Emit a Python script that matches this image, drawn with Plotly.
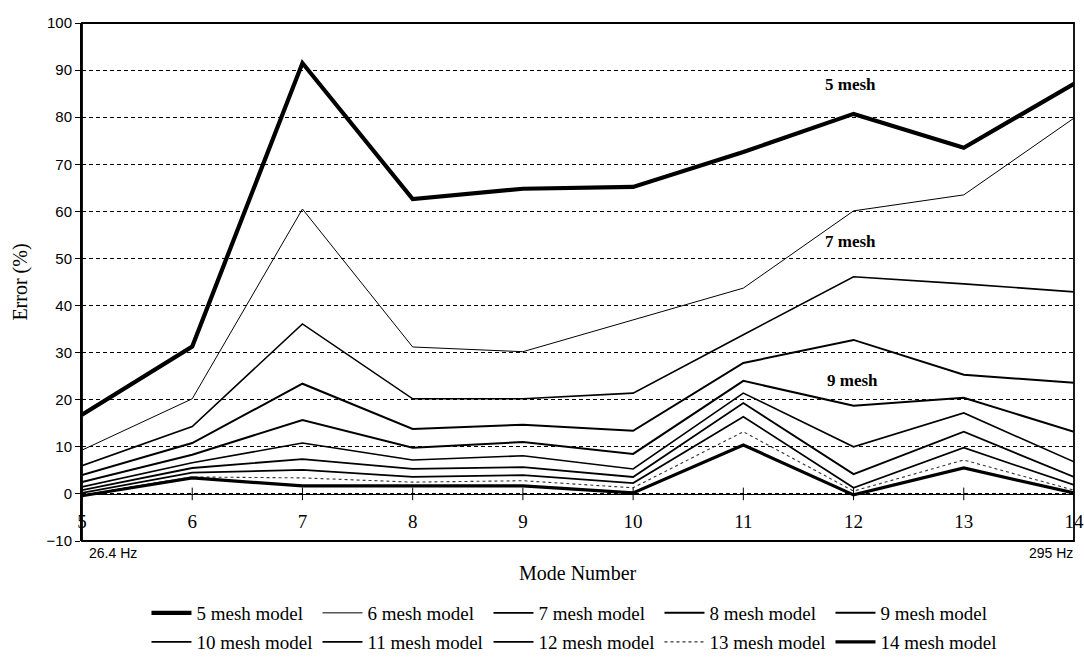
import plotly.graph_objects as go

# ---------------- data ----------------
modes = [5, 6, 7, 8, 9, 10, 11, 12, 13, 14]

mesh_5 = [16.8, 31.3, 91.5, 62.6, 64.8, 65.2, 72.6, 80.7, 73.5, 87.1]
mesh_6 = [9.3, 20.2, 60.5, 31.2, 30.2, 37.0, 43.7, 60.1, 63.5, 79.8]
mesh_7 = [6.0, 14.3, 36.1, 20.2, 20.2, 21.4, 33.8, 46.1, 44.6, 42.9]
mesh_8 = [4.0, 10.8, 23.4, 13.8, 14.7, 13.4, 27.8, 32.7, 25.3, 23.6]
mesh_9 = [2.5, 8.3, 15.7, 9.8, 11.0, 8.5, 24.0, 18.7, 20.4, 13.2]
mesh_10 = [1.5, 6.6, 10.8, 7.2, 8.1, 5.3, 21.4, 10.0, 17.2, 6.8]
mesh_11 = [0.8, 5.5, 7.4, 5.3, 5.7, 3.6, 19.3, 4.2, 13.2, 3.6]
mesh_12 = [0.2, 4.5, 5.1, 3.6, 4.0, 2.3, 16.4, 1.3, 9.8, 1.9]
mesh_13 = [-0.2, 3.6, 3.4, 2.5, 2.8, 1.3, 13.2, 0.6, 7.2, 0.8]
mesh_14 = [-0.4, 3.4, 1.7, 1.7, 1.7, 0.2, 10.4, -0.2, 5.5, 0.2]

series_names = ["5 mesh model", "6 mesh model", "7 mesh model", "8 mesh model",
                "9 mesh model", "10 mesh model", "11 mesh model", "12 mesh model",
                "13 mesh model", "14 mesh model"]
series_values = [mesh_5, mesh_6, mesh_7, mesh_8, mesh_9,
                 mesh_10, mesh_11, mesh_12, mesh_13, mesh_14]

y_ticks = [-10, 0, 10, 20, 30, 40, 50, 60, 70, 80, 90, 100]
line_labels = [("5 mesh", 11.97, 86.9), ("7 mesh", 11.97, 53.5), ("9 mesh", 11.99, 24.0)]
freq_low, freq_high = "26.4 Hz", "295 Hz"

# ---------------- styles ----------------
widths = [4.2, 1.0, 1.6, 2.0, 2.0, 1.6, 1.8, 1.7, 1.1, 3.2]
dashes = ["solid"] * 8 + ["dot", "solid"]
colors = ["black"] * 8 + ["#333333", "black"]

SERIF = "Liberation Serif, Times New Roman, serif"
SANS = "Liberation Sans, Arial, sans-serif"

fig = go.Figure()
for i, (name, vals) in enumerate(zip(series_names, series_values)):
    fig.add_trace(go.Scatter(
        x=modes, y=vals, mode="lines", name=name,
        line=dict(color=colors[i], width=widths[i], dash=dashes[i]),
        legend="legend" if i < 5 else "legend2",
        hoverinfo="skip",
    ))

# crossing tick marks on the zero line
fig.add_trace(go.Scatter(
    x=modes, y=[0] * len(modes), mode="markers", showlegend=False, hoverinfo="skip",
    marker=dict(symbol="line-ns-open", size=9, color="black",
                line=dict(color="black", width=1)),
))

for txt, lx, ly in line_labels:
    fig.add_annotation(x=lx, y=ly, xref="x", yref="y", text="<b>" + txt + "</b>",
                       showarrow=False,
                       font=dict(family=SERIF, size=17, color="black"))

fig.add_annotation(x=modes[0], y=y_ticks[0], xref="x", yref="y", text=freq_low,
                   showarrow=False, xanchor="left", yanchor="top", xshift=5, yshift=-2,
                   font=dict(family=SANS, size=14, color="black"))
fig.add_annotation(x=modes[-1], y=y_ticks[0], xref="x", yref="y", text=freq_high,
                   showarrow=False, xanchor="right", yanchor="top", xshift=1, yshift=-2,
                   font=dict(family=SANS, size=14, color="black"))
fig.add_annotation(x=0.5, y=y_ticks[0], xref="paper", yref="y", text="Mode Number",
                   showarrow=False, xanchor="center", yanchor="middle", yshift=-32,
                   font=dict(family=SERIF, size=20, color="black"))

fig.add_shape(type="rect", xref="paper", yref="paper", x0=0, x1=1, y0=0, y1=1,
              line=dict(color="black", width=1.8), layer="above")

legend_common = dict(
    orientation="h", xanchor="left", yanchor="middle", x=0.065,
    font=dict(family=SERIF, size=19, color="black"),
    entrywidth=116, itemwidth=40, bgcolor="rgba(0,0,0,0)",
    traceorder="normal",
)

fig.update_layout(
    width=1084, height=658,
    margin=dict(l=82, r=10, t=23, b=117, autoexpand=False),
    paper_bgcolor="white", plot_bgcolor="white",
    showlegend=True,
    legend=dict(legend_common, y=-0.139),
    legend2=dict(legend_common, y=-0.195),
    xaxis=dict(
        range=[modes[0], modes[-1]], tickvals=modes, ticktext=[str(m) for m in modes],
        anchor="free", position=10 / 110, automargin=False,
        showgrid=False, zeroline=False,
        showline=True, linecolor="black", linewidth=1.2,
        ticks="", ticklabelstandoff=10,
        tickfont=dict(family=SERIF, size=19, color="black"),
    ),
    yaxis=dict(
        range=[y_ticks[0], y_ticks[-1]], tickvals=y_ticks, automargin=False,
        showgrid=True, gridcolor="black", gridwidth=1, griddash="4px,3px",
        zeroline=False,
        showline=True, linecolor="black", linewidth=2,
        ticks="outside", ticklen=5, tickcolor="black", tickwidth=1,
        tickfont=dict(family=SANS, size=15, color="black"),
        title=dict(text="Error (%)", font=dict(family=SERIF, size=20, color="black"), standoff=14),
    ),
)

fig.write_html("out.html", config={"displayModeBar": False},
               post_script="document.body.style.margin='0';")
